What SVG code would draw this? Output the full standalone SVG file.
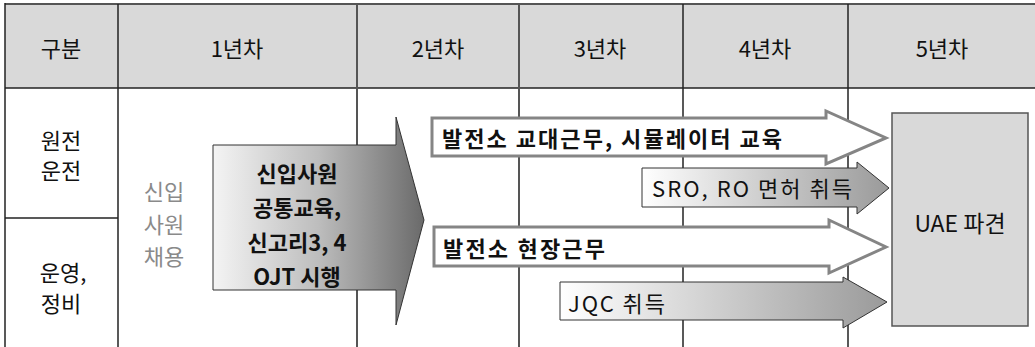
<svg xmlns="http://www.w3.org/2000/svg" width="1035" height="347" viewBox="0 0 1035 347">
<style>
text{font-family:"Noto Sans CJK KR","Noto Sans CJK SC",sans-serif;font-size:22px;fill:#111;text-anchor:middle;dominant-baseline:central}
.b{font-weight:bold}
.l{text-anchor:start}
.g{fill:#8a8a8a}
.grid{stroke:#222;stroke-width:1.5;fill:none}
.gridg{stroke:#555;stroke-width:2;fill:none}
.wa{fill:#fff;stroke:#858585;stroke-width:3}
.ga{fill:url(#gs);stroke:#333;stroke-width:1}
</style>
<defs>
<linearGradient id="gb" x1="0" y1="0" x2="1" y2="0">
<stop offset="0" stop-color="#f4f4f4"/>
<stop offset="0.5" stop-color="#bdbdbd"/>
<stop offset="1" stop-color="#6a6a6a"/>
</linearGradient>
<linearGradient id="gs" x1="0" y1="0" x2="1" y2="0">
<stop offset="0" stop-color="#ffffff"/>
<stop offset="1" stop-color="#9a9a9a"/>
</linearGradient>
</defs>
<rect width="1035" height="347" fill="#fff"/>
<g id="table">
<rect x="5" y="4" width="1030" height="84" fill="#d9d9d9"/>
<line class="gridg" x1="5" y1="4" x2="1035" y2="4" stroke-width="2.5"/>
<line class="grid" x1="5" y1="88" x2="1035" y2="88"/>
<line class="grid" x1="5" y1="3" x2="5" y2="347" stroke-width="2.5"/>
<line class="grid" x1="118" y1="4" x2="118" y2="347"/>
<line class="gridg" x1="357" y1="4" x2="357" y2="347"/>
<line class="gridg" x1="519" y1="4" x2="519" y2="347"/>
<line class="grid" x1="683" y1="4" x2="683" y2="347"/>
<line class="grid" x1="848" y1="4" x2="848" y2="347"/>
<line class="grid" x1="5" y1="218" x2="118" y2="218"/>
<text x="61" y="47">구분</text>
<text x="237" y="47">1년차</text>
<text x="438" y="47">2년차</text>
<text x="600" y="47">3년차</text>
<text x="765" y="47">4년차</text>
<text x="942" y="47">5년차</text>
<text x="61" y="139">원전</text>
<text x="61" y="169">운전</text>
<text x="63" y="271">운영,</text>
<text x="61" y="302">정비</text>
</g>
<g id="hire">
<text class="g" x="164" y="190">신입</text>
<text class="g" x="164" y="223">사원</text>
<text class="g" x="164" y="255">채용</text>
</g>
<g id="connectors">
<g id="arrow-common">
<path d="M213,145 H396 V117 L424,220 L396,325 V290 H213 Z" fill="url(#gb)" stroke="#333" stroke-width="1"/>
<text class="b" x="297" y="172">신입사원</text>
<text class="b" x="297" y="206">공통교육,</text>
<text class="b" x="297" y="241">신고리3, 4</text>
<text class="b" x="297" y="275">OJT 시행</text>
</g>
<g id="arrow-shift">
<path class="wa" d="M432,118 H826 V111 L886,138 L826,164 V156 H432 Z"/>
<text class="b l" x="442" y="137" textLength="340" lengthAdjust="spacing">발전소 교대근무, 시뮬레이터 교육</text>
</g>
<g id="arrow-sro">
<path class="ga" d="M642,168 H857 V162 L889,188 L857,214 V207 H642 Z"/>
<text class="l" x="652" y="187" textLength="200" lengthAdjust="spacing">SRO, RO 면허 취득</text>
</g>
<g id="arrow-field">
<path class="wa" d="M434,227 H829 V220 L886,247 L829,273 V266 H434 Z"/>
<text class="b l" x="443" y="247" textLength="162" lengthAdjust="spacing">발전소 현장근무</text>
</g>
<g id="arrow-jqc">
<path class="ga" d="M560,282 H843 V277 L887,302 L843,328 V320 H560 Z"/>
<text class="l" x="568" y="302" textLength="97" lengthAdjust="spacing">JQC 취득</text>
</g>
</g>
<g id="uae">
<rect x="892" y="113" width="136" height="213" fill="#d9d9d9" stroke="#555" stroke-width="1.5"/>
<text x="960" y="222" style="font-size:23px">UAE 파견</text>
</g>
</svg>
